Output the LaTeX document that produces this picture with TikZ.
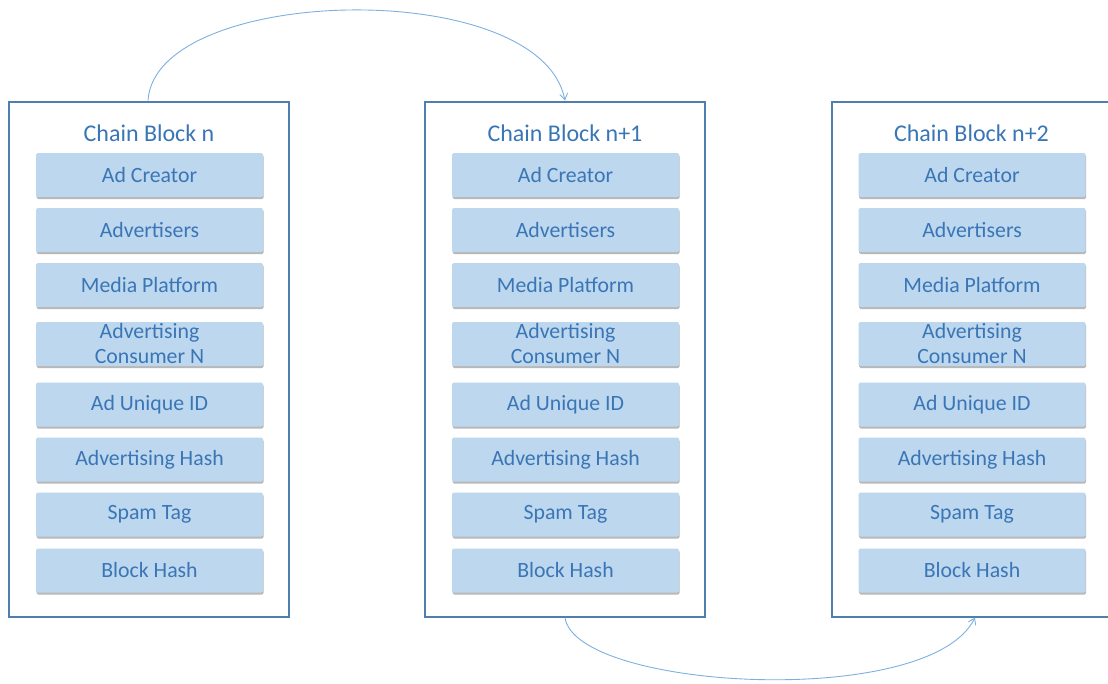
\documentclass[tikz,border=0pt]{standalone}
\usepackage{fontspec}
\setmainfont{Carlito}
\usetikzlibrary{arrows.meta,shadows}
\definecolor{frameblue}{HTML}{4F7FAE}
\definecolor{cellfill}{HTML}{BDD7EE}
\definecolor{textblue}{HTML}{3A76B6}
\definecolor{linkblue}{HTML}{7DB0E0}
\tikzset{
  blockframe/.style={draw=frameblue, line width=2pt, fill=white,
    minimum width=280pt, minimum height=515pt, inner sep=0pt},
  blocktitle/.style={text=textblue, font=\fontsize{24}{28}\selectfont, inner sep=0pt},
  cell/.style={fill=cellfill, rounded corners=1.5pt, minimum width=227pt, minimum height=44pt,
    inner sep=0pt, text=textblue, font=\fontsize{21.8}{25}\selectfont, align=center,
    drop shadow={shadow xshift=0.6pt, shadow yshift=-2pt, fill=black!55, opacity=0.5}},
  link/.style={draw=linkblue, line width=0.9pt,
    -{Straight Barb[length=6pt, width=8pt, line width=0.9pt]}}
}
\begin{document}
\begin{tikzpicture}[x=1pt, y=-1pt]
  \useasboundingbox (0,0) rectangle (1108,683);
  \clip (0,0) rectangle (1108,683);
  % three chain blocks: name / frame centre / title
  \foreach \b/\cx/\ttl in {1/149/{Chain Block n}, 2/565/{Chain Block n+1}, 3/971.5/{Chain Block n+2}} {
    \node[blockframe] (blk\b) at (\cx,359) {};
    \node[blocktitle] (ttl\b) at (\cx,133) {\ttl};
    \foreach \r/\cy/\lbl in {
        1/175/{Ad Creator},
        2/230/{Advertisers},
        3/285/{Media Platform},
        4/344/{Advertising\\Consumer N},
        5/404.5/{Ad Unique ID},
        6/459.5/{Advertising Hash},
        7/514.5/{Spam Tag},
        8/570.5/{Block Hash}} {
      \node[cell] (b\b r\r) at (\cx+0.5,\cy) {\lbl};
    }
  }
  % links between consecutive blocks
  \coordinate (s1) at ([xshift=-1pt]blk1.north);
  \coordinate (e1) at (blk2.north);
  \draw[link] (s1) .. controls (155,-15) and (540,-25) .. (e1);
  \coordinate (s2) at (blk2.south);
  \coordinate (e2) at ([xshift=3.5pt]blk3.south);
  \draw[link] (s2) .. controls (575,690) and (930,710) .. (e2);
\end{tikzpicture}
\end{document}
